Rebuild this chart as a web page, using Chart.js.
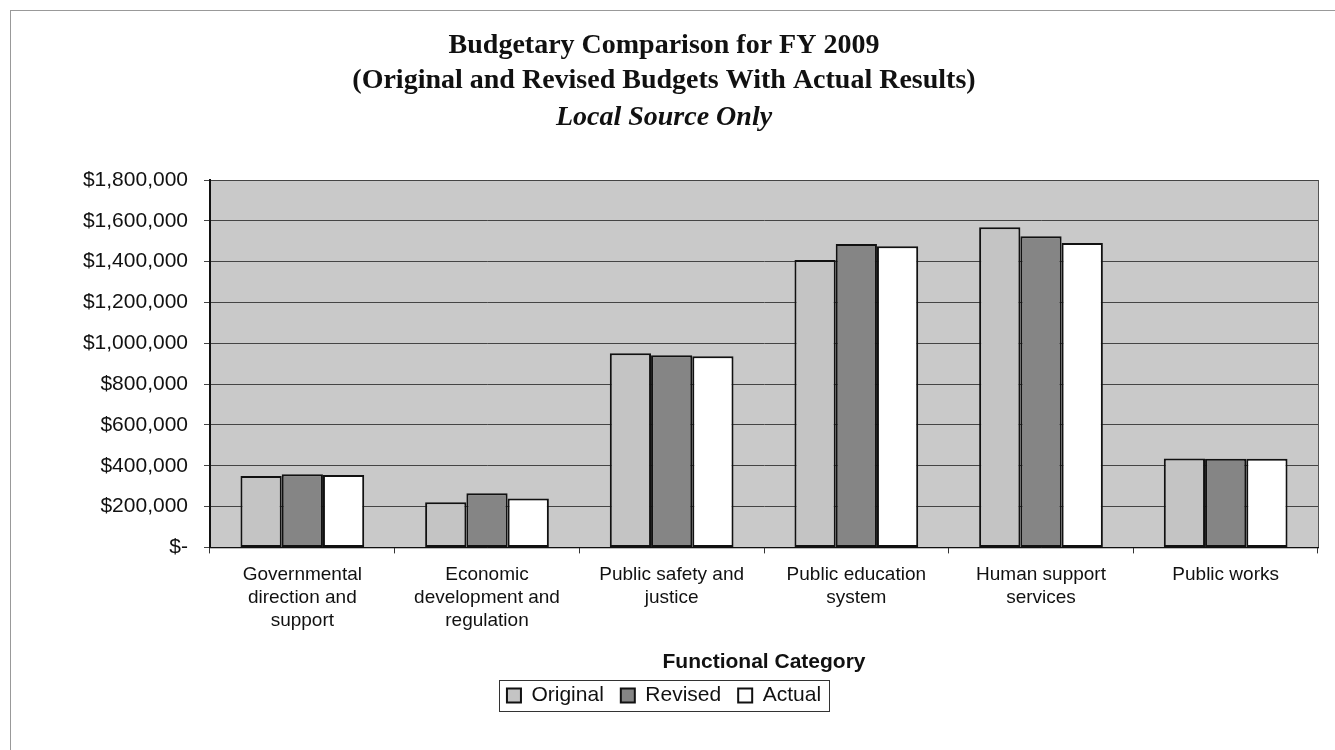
<!DOCTYPE html>
<html>
<head>
<meta charset="utf-8">
<script src="https://cdn.jsdelivr.net/npm/chart.js@4.4.0/dist/chart.umd.min.js"></script>
<style>
  body { margin: 0; background: #fff; }
  #frame { position: absolute; left: 10px; top: 10px; width: 1340px; height: 760px; border: 1px solid #999; }
  #wrap { position: absolute; left: 0; top: 0; width: 1335px; height: 750px; }
</style>
</head>
<body>
<div id="frame"></div>
<div id="wrap"><canvas id="budget-chart"></canvas></div>
<script>
const categories = [
    ['Governmental', 'direction and', 'support'],
    ['Economic', 'development and', 'regulation'],
    ['Public safety and', 'justice'],
    ['Public education', 'system'],
    ['Human support', 'services'],
    ['Public works']
];
const original = [350000, 221000, 951000, 1408000, 1569000, 436000];
const revised = [358000, 265000, 942000, 1486000, 1525000, 434000];
const actual = [355000, 240000, 937000, 1476000, 1491000, 434000];

const sans = '"Liberation Sans", Arial, sans-serif';
const serif = '"Liberation Serif", "Times New Roman", serif';

const plotBg = {
    id: 'plotBg',
    beforeDraw(chart) {
        const { ctx, chartArea: a } = chart;
        ctx.save();
        ctx.fillStyle = '#c9c9c9';
        ctx.fillRect(a.left, a.top, a.right - a.left, a.bottom - a.top);
        ctx.strokeStyle = '#555';
        ctx.lineWidth = 1;
        ctx.strokeRect(a.left + 0.5, a.top + 0.5, a.right - a.left, a.bottom - a.top);
        ctx.restore();
    },
    afterDraw(chart) {
        // box round the legend items
        const boxes = chart.legend.legendHitBoxes;
        if (!boxes || !boxes.length) return;
        const left = Math.min(...boxes.map(b => b.left)) - 8;
        const right = Math.max(...boxes.map(b => b.left + b.width)) + 8;
        const top = Math.min(...boxes.map(b => b.top)) - 5;
        const bottom = Math.max(...boxes.map(b => b.top + b.height)) + 5;
        const ctx = chart.ctx;
        ctx.save();
        ctx.strokeStyle = '#333';
        ctx.lineWidth = 1;
        ctx.strokeRect(Math.round(left) + 0.5, Math.round(top) + 0.5, Math.round(right - left), Math.round(bottom - top));
        ctx.restore();
    }
};

const data = {
    labels: categories,
    datasets: [
        { label: 'Original', data: original, backgroundColor: '#c4c4c4' },
        { label: 'Revised', data: revised, backgroundColor: '#858585' },
        { label: 'Actual', data: actual, backgroundColor: '#ffffff' }
    ].map(d => Object.assign(d, { borderColor: '#111', borderWidth: 2, borderSkipped: false }))
};

const config = {
    type: 'bar',
    data: data,
    plugins: [plotBg],
    options: {
        responsive: true,
        maintainAspectRatio: false,
        animation: false,
        layout: { padding: { left: 10, right: 17, top: 28, bottom: 34 } },
        datasets: { bar: { barPercentage: 1, categoryPercentage: 0.67 } },
        plugins: {
            title: {
                display: true,
                text: ['Budgetary Comparison for FY 2009', '(Original and Revised Budgets With Actual Results)'],
                color: '#111',
                font: { family: serif, size: 28, weight: 'bold', lineHeight: 1.25 },
                padding: { top: 0, bottom: 2 }
            },
            subtitle: {
                display: true,
                text: 'Local Source Only',
                color: '#111',
                font: { family: serif, size: 28, weight: 'bold', style: 'italic', lineHeight: 1.25 },
                padding: { top: 0, bottom: 45 }
            },
            legend: {
                position: 'bottom',
                labels: {
                    color: '#111',
                    boxWidth: 14,
                    boxHeight: 14,
                    padding: 17,
                    font: { family: sans, size: 21 }
                }
            },
            tooltip: { enabled: false }
        },
        scales: {
            x: {
                grid: { drawOnChartArea: false, drawTicks: true, tickLength: 6, color: '#333' },
                border: { color: '#111', width: 1 },
                ticks: { color: '#111', maxRotation: 0, autoSkip: false, padding: 10, font: { family: sans, size: 19, lineHeight: 1.2 } },
                title: { display: true, text: 'Functional Category', color: '#111', padding: { top: 8, bottom: -7 }, font: { family: sans, size: 21, weight: 'bold' } }
            },
            y: {
                min: 0,
                max: 1800000,
                afterFit(scale) { scale.width = 200; },
                grid: { color: '#444', lineWidth: 1, tickLength: 6 },
                border: { color: '#111', width: 2 },
                ticks: {
                    stepSize: 200000,
                    color: '#111',
                    padding: 16,
                    font: { family: sans, size: 21 },
                    callback: v => v === 0 ? '$-' : '$' + v.toLocaleString('en-US')
                }
            }
        }
    }
};

new Chart(document.getElementById('budget-chart'), config);
</script>
</body>
</html>
